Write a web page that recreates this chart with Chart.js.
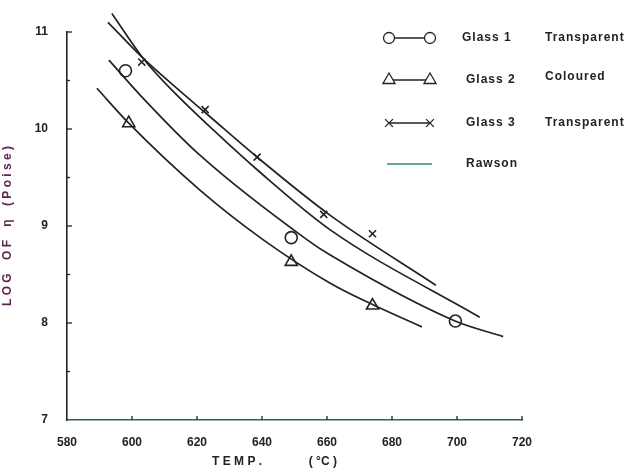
<!DOCTYPE html>
<html>
<head>
<meta charset="utf-8">
<script src="https://cdn.jsdelivr.net/npm/chart.js@4"></script>
<style>
  html, body { margin: 0; padding: 0; background: #fff; }
  #wrap { width: 635px; height: 473px; }
</style>
</head>
<body>
<div id="wrap"><canvas id="myChart" width="635" height="473"></canvas></div>
<script>
// values (temperature in deg C, log of viscosity)
const xTicks = [580, 600, 620, 640, 660, 680, 700, 720];
const yTicks = [7, 8, 9, 10, 11];

// measured points
const glass1T = [598, 649, 699.5];
const glass1Log = [10.6, 8.88, 8.02];
const glass2T = [599, 649, 674];
const glass2Log = [10.06, 8.63, 8.18];
const glass3T = [603, 622.5, 638.5, 659, 674];
const glass3Log = [10.69, 10.2, 9.71, 9.12, 8.92];

// drawn curves
const curve1T = [592.9, 602.5, 620.9, 653.8, 661, 699.4, 714.2];
const curve1Log = [10.71, 10.35, 9.73, 8.86, 8.7, 8.02, 7.86];
const curve2T = [589.2, 599, 620.9, 640.3, 661, 674, 689.2];
const curve2Log = [10.42, 10.06, 9.37, 8.86, 8.41, 8.19, 7.96];
const curve3T = [592.6, 603.4, 614.8, 622.5, 638.5, 661, 693.5];
const curve3Log = [11.1, 10.73, 10.39, 10.17, 9.71, 9.11, 8.39];
const rawsonT = [593.8, 603.4, 612.3, 625, 638.5, 661, 707];
const rawsonLog = [11.19, 10.73, 10.4, 9.99, 9.58, 8.96, 8.06];

const legendNames = ['Glass 1', 'Glass 2', 'Glass 3', 'Rawson'];
const legendNotes = ['Transparent', 'Coloured', 'Transparent', ''];
const legendStyles = ['circle', 'triangle', 'crossRot', null];

const ink = '#222';
const font = '"Liberation Sans", Arial, sans-serif';

function pts(xs, ys) {
    return xs.map((x, i) => ({ x: x, y: ys[i] }));
}

function curve(xs, ys) {
    return {
        type: 'line',
        data: pts(xs, ys),
        borderColor: ink,
        borderWidth: 1.7,
        pointRadius: 0,
        cubicInterpolationMode: 'monotone',
        clip: false
    };
}

function marks(xs, ys, style, r) {
    return {
        type: 'scatter',
        data: pts(xs, ys),
        showLine: false,
        pointStyle: style,
        pointRadius: r,
        pointBorderWidth: 1.6,
        pointBorderColor: ink,
        pointBackgroundColor: '#fff',
        clip: false
    };
}

// inward ticks, half-unit minor ticks on y, and the legend block
const extras = {
    id: 'extras',
    afterDraw(chart) {
        const c = chart.ctx;
        const xs = chart.scales.x, ys = chart.scales.y;
        const area = chart.chartArea;
        c.save();
        c.strokeStyle = ink;
        c.lineWidth = 1.3;
        for (let v = 7.5; v <= 11; v += 0.5) {
            const py = ys.getPixelForValue(v);
            c.beginPath();
            c.moveTo(area.left, py);
            c.lineTo(area.left + (v % 1 === 0 ? 5 : 3), py);
            c.stroke();
        }
        xTicks.slice(1).forEach(t => {
            const px = xs.getPixelForValue(t);
            c.beginPath();
            c.moveTo(px, area.bottom);
            c.lineTo(px, area.bottom - 4);
            c.stroke();
        });

        // legend
        const rows = [38, 80, 123, 164];
        c.font = 'bold 12px ' + font;
        c.letterSpacing = '1px';
        c.textBaseline = 'middle';
        rows.forEach((y, i) => {
            if (legendStyles[i]) {
                c.strokeStyle = ink;
                c.lineWidth = 1.3;
                c.beginPath();
                c.moveTo(389, y);
                c.lineTo(430, y);
                c.stroke();
                c.fillStyle = '#fff';
                const r = legendStyles[i] === 'triangle' ? 7 : 5.5;
                [389, 430].forEach(px => {
                    Chart.helpers.drawPoint(c, { pointStyle: legendStyles[i], radius: r, rotation: 0, borderWidth: 1.6 }, px, y);
                });
            } else {
                c.strokeStyle = '#2a8a7a';
                c.lineWidth = 1.6;
                c.beginPath();
                c.moveTo(387, y);
                c.lineTo(432, y);
                c.stroke();
            }
            c.fillStyle = ink;
            c.textAlign = 'left';
            c.fillText(legendNames[i], 462 + (i > 0 ? 4 : 0), y);
            if (legendNotes[i]) c.fillText(legendNotes[i], 545, y - (i === 1 ? 3 : 0));
        });
        c.restore();
    }
};

const ctx = document.getElementById('myChart').getContext('2d');

const myChart = new Chart(ctx, {
    data: {
        datasets: [
            curve(curve1T, curve1Log),
            curve(curve2T, curve2Log),
            curve(curve3T, curve3Log),
            curve(rawsonT, rawsonLog),
            marks(glass1T, glass1Log, 'circle', 6),
            marks(glass2T, glass2Log, 'triangle', 7),
            marks(glass3T, glass3Log, 'crossRot', 5)
        ]
    },
    options: {
        responsive: false,
        animation: false,
        layout: { padding: { top: 32, right: 113, left: 0, bottom: 0 } },
        plugins: {
            legend: { display: false },
            tooltip: { enabled: false }
        },
        scales: {
            x: {
                type: 'linear',
                min: 580,
                max: 720,
                afterFit: s => { s.height = 53; },
                afterBuildTicks: s => { s.ticks = xTicks.map(v => ({ value: v })); },
                grid: { display: false },
                border: { display: true, color: '#2f6a35', width: 1.6 },
                ticks: {
                    padding: 7,
                    color: ink,
                    font: { family: font, size: 12, weight: 'bold' }
                },
                title: {
                    display: true,
                    text: 'T E M P .              ( °C )            ',
                    color: ink,
                    padding: { top: 0, bottom: 4 },
                    font: { family: font, size: 12, weight: 'bold' }
                }
            },
            y: {
                type: 'linear',
                min: 7,
                max: 11,
                afterFit: s => { s.width = 67; },
                afterBuildTicks: s => { s.ticks = yTicks.map(v => ({ value: v })); },
                grid: { display: false },
                border: { display: true, color: ink, width: 1.6 },
                ticks: {
                    padding: 11,
                    color: ink,
                    font: { family: font, size: 12, weight: 'bold' }
                },
                title: {
                    display: true,
                    text: 'L O G    O F    η    ( P o i s e )',
                    color: '#5e2452',
                    padding: { top: 0, bottom: 14 },
                    font: { family: font, size: 12, weight: 'bold' }
                }
            }
        }
    },
    plugins: [extras]
});
</script>
</body>
</html>
